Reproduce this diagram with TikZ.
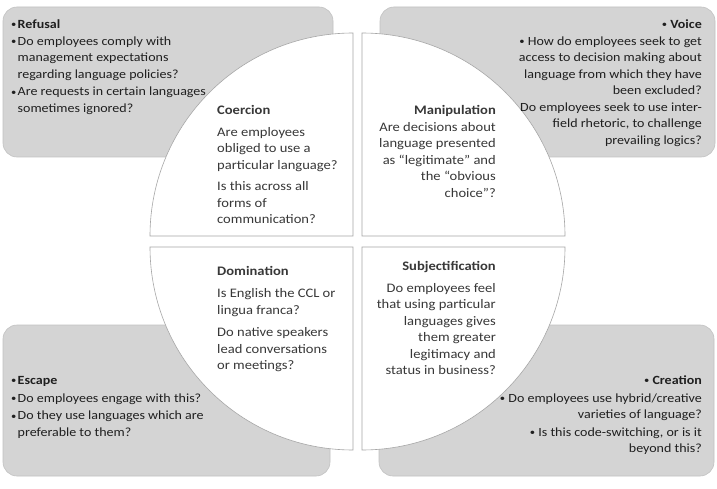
\documentclass[tikz,border=0pt]{standalone}
\usepackage{fontspec}
\setmainfont{Carlito}[FakeStretch=1.12]
\newcommand{\sbul}{\raisebox{0.6pt}{\fontsize{9.5}{9.5}\selectfont\textbullet}}
\newcommand{\bul}{\makebox[6.5pt][l]{\sbul}}
\newcommand{\bind}{\hspace*{6.5pt}}
\begin{document}
\begin{tikzpicture}[x=1pt,y=1pt,
  greybox/.style={fill=black!17, draw=black!24, line width=0.6pt, rounded corners=14pt},
  quad/.style={fill=white, draw=black!35, line width=0.6pt},
  qtext/.style={inner sep=0pt, font=\fontsize{13}{16.5}\selectfont, text=black!78},
  btext/.style={inner sep=0pt, font=\fontsize{12.5}{16.3}\selectfont, text=black!88}]
\useasboundingbox[fill=white] (0,0) rectangle (717,488);
% grey boxes
\draw[greybox] (3,331) rectangle (333,481);
\draw[greybox] (380,331) rectangle (715,481);
\draw[greybox] (3,12) rectangle (330,163);
\draw[greybox] (379,12) rectangle (714,163);
% white quadrants
\draw[quad] (353,252) -- ++(0,203) arc[start angle=90, end angle=180, radius=203] -- cycle;
\draw[quad] (362,252) -- ++(203,0) arc[start angle=0, end angle=90, radius=203] -- cycle;
\draw[quad] (353,241) -- ++(-203,0) arc[start angle=180, end angle=270, radius=203] -- cycle;
\draw[quad] (362,241) -- ++(0,-203) arc[start angle=270, end angle=360, radius=203] -- cycle;
% quadrant texts
\node[qtext, anchor=north west, align=left] (coercion) at (217,385.5) {\strut\textbf{Coercion}\\[5.5pt]
Are employees\\ obliged to use a\\ particular language?\\[5pt]
Is this across all\\ forms of\\ communication?};
\node[qtext, anchor=north east, align=right] (manip) at (496,385.5) {\strut\textbf{Manipulation}\\[0.5pt]
Are decisions about\\ language presented\\ as “legitimate” and\\ the “obvious\\ choice”?};
\node[qtext, anchor=north west, align=left] (domin) at (217,224) {\strut\textbf{Domination}\\[5.5pt]
Is English the CCL or\\ lingua franca?\\[6pt]
Do native speakers\\ lead conversations\\ or meetings?};
\node[qtext, anchor=north east, align=right] (subj) at (496,229.5) {\strut\textbf{Subjectification}\\[5.5pt]
Do employees feel\\ that using particular\\ languages gives\\ them greater\\ legitimacy and\\ status in business?};
% box texts
\node[btext, anchor=north west, align=left] (refusal) at (11,471.5) {\strut\bul\textbf{Refusal}\\[1pt]
\bul Do employees comply with\\ \bind management expectations\\ \bind regarding language policies?\\[1.5pt]
\bul Are requests in certain languages\\ \bind sometimes ignored?};
\node[btext, anchor=north east, align=right] (voice) at (702,471.5) {\strut\sbul\ \textbf{Voice}\\[1pt]
\sbul\ How do employees seek to get\\ access to decision making about\\ language from which they have\\ been excluded?\\[1pt]
Do employees seek to use inter-\\ field rhetoric, to challenge\\ prevailing logics?};
\node[btext, anchor=north east, align=right] (creation) at (702,115.3) {\strut\sbul\ \textbf{Creation}\\[1.5pt]
\sbul\ Do employees use hybrid/creative\\ varieties of language?\\[1.5pt]
\sbul\ Is this code-switching, or is it\\ beyond this?};
\node[btext, anchor=north west, align=left] (escape) at (11,115.3) {\strut\bul\textbf{Escape}\\[1.5pt]
\bul Do employees engage with this?\\[1.5pt]
\bul Do they use languages which are\\ \bind preferable to them?};
\end{tikzpicture}
\end{document}
